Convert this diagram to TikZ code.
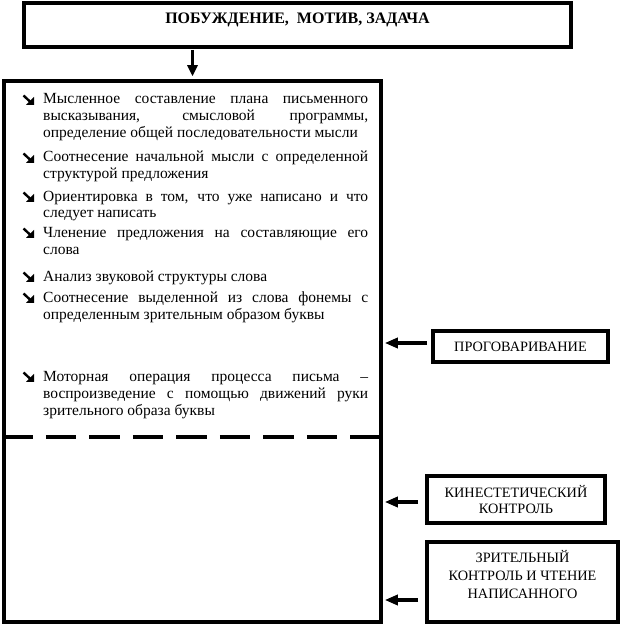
\documentclass[tikz,border=0pt]{standalone}
\usepackage{fontspec}
\setmainfont{Liberation Serif}
\usetikzlibrary{arrows.meta}
\begin{document}
\begin{tikzpicture}[x=1pt,y=-1pt,
  box/.style={draw, line width=3.5pt, inner sep=0pt},
  para/.style={anchor=base west, text width=325pt, align=justify, inner sep=0pt,
    font=\fontsize{15.5}{17}\selectfont,
    execute at begin node={\hyphenpenalty=10000\relax\tolerance=9999\relax}},
  bularrow/.pic={
    \draw[line width=2.4pt] (-10.5,-8.5) -- (-3,-1.5);
    \fill (-8,0.8) -- (0,0.8) -- (0,-7.2) -- cycle;
  },
  rtext/.style={font=\fontsize{14.3}{16}\selectfont, align=center},
  harr/.style={line width=3.2pt, -{Triangle[length=13pt,width=10pt]}, shorten >=2pt},
  varr/.style={line width=2.6pt, -{Triangle[length=11pt,width=10pt]}, shorten >=3pt, shorten <=1pt},
  dashline/.style={line width=4pt, dash pattern=on 30.5pt off 13pt}
]
\useasboundingbox (0,0) rectangle (623,628);

% top box
\node[box, line width=4pt, minimum width=547pt, minimum height=44pt,
  label={[font=\bfseries\fontsize{16}{18}\selectfont, yshift=5pt]center:{ПОБУЖДЕНИЕ,\ \ МОТИВ, ЗАДАЧА}}]
  (top) at (297.5,25) {};

% main box
\node[box, minimum width=377pt, minimum height=541pt] (main) at (192.5,351.5) {};

\draw[varr] (main.north |- top.south) -- (main.north);

% dashed separator
\coordinate (d) at (0,437);
\draw[dashline] (main.west |- d) -- (main.east |- d);

% paragraphs
\node[para] (p1) at (43,104) {Мысленное составление плана письменного\linebreak высказывания, смысловой программы,\linebreak определение общей последовательности мысли};
\node[para] (p2) at (43,162) {Соотнесение начальной мысли с определенной\linebreak структурой предложения};
\node[para] (p3) at (43,201) {Ориентировка в том, что уже написано и что\linebreak следует написать};
\node[para] (p4) at (43,237) {Членение предложения на составляющие его\linebreak слова};
\node[para] (p5) at (43,281) {Анализ звуковой структуры слова};
\node[para] (p6) at (43,302) {Соотнесение выделенной из слова фонемы с\linebreak определенным зрительным образом буквы};
\node[para] (p7) at (43,381) {Моторная операция процесса письма –\linebreak воспроизведение с помощью движений руки\linebreak зрительного образа буквы};

% bullets
\foreach \p in {p1,p2,p3,p4,p5,p6,p7}
  \pic at ([xshift=-9pt]\p.base west) {bularrow};

% right boxes
\node[box, minimum width=175pt, minimum height=31pt, rtext] (r1) at (520.5,346.5) {ПРОГОВАРИВАНИЕ};
\node[box, minimum width=178pt, minimum height=47pt, rtext] (r2) at (516,499.5) {КИНЕСТЕТИЧЕСКИЙ\\КОНТРОЛЬ};
\node[box, minimum width=191pt, minimum height=80pt,
  label={[rtext, font=\fontsize{14.3}{18}\selectfont, yshift=7pt]center:{ЗРИТЕЛЬНЫЙ\\КОНТРОЛЬ И ЧТЕНИЕ\\НАПИСАННОГО}}]
  (r3) at (522.5,582) {};

% arrows into the main box
\coordinate (s1) at (427,343);
\coordinate (s2) at (418,502);
\coordinate (s3) at (418,600);
\draw[harr] (s1) -- (main.east |- s1);
\draw[harr] (s2) -- (main.east |- s2);
\draw[harr] (s3) -- (main.east |- s3);
\end{tikzpicture}
\end{document}
